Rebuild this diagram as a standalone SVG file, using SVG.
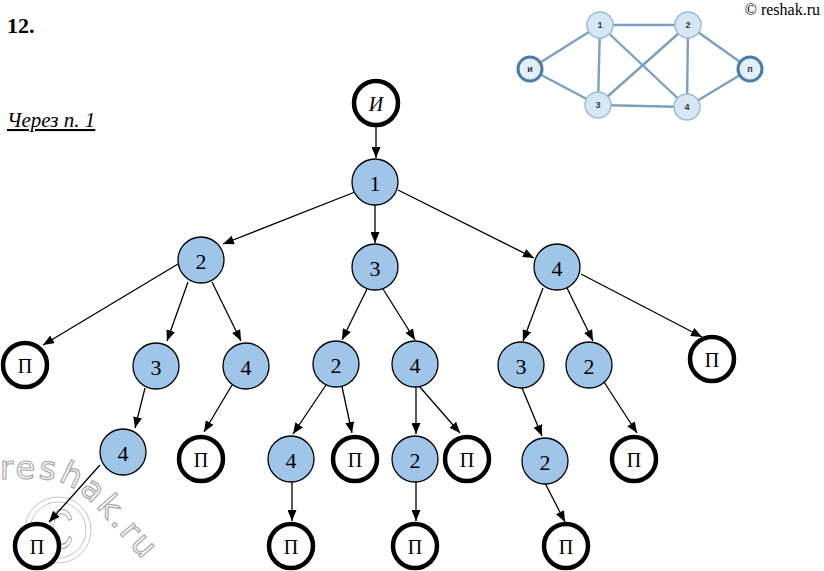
<svg xmlns="http://www.w3.org/2000/svg" xmlns:xlink="http://www.w3.org/1999/xlink" width="824" height="571" viewBox="0 0 824 571">
<style>
.n circle{fill:#9fc5e8;stroke:#000;stroke-width:1.3}
.t circle{fill:#fff;stroke:#000;stroke-width:4.5}
.n text,.t text{font-family:"Liberation Serif",serif;text-anchor:middle;dominant-baseline:central;fill:#000}
.n text{font-size:22px}
.t text{font-size:20px}
.e line{stroke:#000;stroke-width:1.3;marker-end:url(#ah)}
.se line{stroke:#7ba0c2;stroke-width:2.4}
.sn circle{fill:#d7e7f4;stroke:#9dbcd8;stroke-width:1.5}
.st circle{fill:#e4eef7;stroke:#4a7cab;stroke-width:3}
.sn text,.st text{font-family:"Liberation Sans",sans-serif;font-size:9px;font-weight:bold;text-anchor:middle;dominant-baseline:central;fill:#2a3a4a}
.wm{fill:#fff;stroke:#a9a9a9;stroke-width:1.2}
</style>
<defs>
<marker id="ah" markerUnits="userSpaceOnUse" markerWidth="11" markerHeight="9" refX="11" refY="4.5" orient="auto">
<path d="M0,0 L11,4.5 L0,9 z" fill="#000"/>
</marker>
<path id="wmpath" d="M 0,479 L 40,479 Q 70,479 95,506 L 160,579"/>
</defs>
<rect width="824" height="571" fill="#fff"/>

<text x="7" y="33" font-family="Liberation Serif,serif" font-size="22" font-weight="bold">12.</text>
<text x="7" y="127" font-family="Liberation Serif,serif" font-size="21" font-style="italic" text-decoration="underline">Через п. 1</text>
<text x="820" y="15" font-family="Liberation Serif,serif" font-size="16" text-anchor="end">© reshak.ru</text>

<g id="small-graph">
<g class="se">
<line x1="530" y1="69" x2="600" y2="25"/>
<line x1="530" y1="69" x2="598" y2="105"/>
<line x1="600" y1="25" x2="688" y2="25"/>
<line x1="600" y1="25" x2="598" y2="105"/>
<line x1="600" y1="25" x2="687" y2="107"/>
<line x1="688" y1="25" x2="598" y2="105"/>
<line x1="688" y1="25" x2="687" y2="107"/>
<line x1="688" y1="25" x2="750" y2="69"/>
<line x1="598" y1="105" x2="687" y2="107"/>
<line x1="687" y1="107" x2="750" y2="69"/>
</g>
<g id="s-I" class="st"><circle cx="530" cy="69" r="12"/><text x="530" y="69">и</text></g>
<g id="s-1" class="sn"><circle cx="600" cy="25" r="13"/><text x="600" y="25">1</text></g>
<g id="s-2" class="sn"><circle cx="688" cy="25" r="13"/><text x="688" y="25">2</text></g>
<g id="s-3" class="sn"><circle cx="598" cy="105" r="13"/><text x="598" y="105">3</text></g>
<g id="s-4" class="sn"><circle cx="687" cy="107" r="13"/><text x="687" y="107">4</text></g>
<g id="s-P" class="st"><circle cx="750" cy="69" r="12"/><text x="750" y="69">п</text></g>
</g>

<g id="watermark">
<circle cx="58" cy="530" r="33" fill="none" stroke="#c4c4c4" stroke-width="1"/>
<circle cx="58" cy="530" r="28" fill="none" stroke="#c4c4c4" stroke-width="1"/>
<text class="wm" x="0" y="0" font-family="Liberation Sans,sans-serif" font-size="56" text-anchor="middle" transform="translate(61,548) scale(0.6,1)">C</text>
<text class="wm" font-family="DejaVu Sans,sans-serif" font-size="32" letter-spacing="3"><textPath xlink:href="#wmpath" href="#wmpath">reshak.ru</textPath></text>
</g>

<g id="connectors" class="e">
<line x1="376" y1="127" x2="376" y2="158"/>
<line x1="355" y1="192" x2="223" y2="244"/>
<line x1="375" y1="205" x2="375" y2="243"/>
<line x1="398" y1="190" x2="534" y2="258"/>
<line x1="178" y1="264" x2="43" y2="345"/>
<line x1="188" y1="282" x2="167" y2="341"/>
<line x1="212" y1="282" x2="241" y2="341"/>
<line x1="367" y1="289" x2="342" y2="340"/>
<line x1="383" y1="289" x2="415" y2="340"/>
<line x1="543" y1="288" x2="523" y2="341"/>
<line x1="567" y1="288" x2="593" y2="341"/>
<line x1="581" y1="274" x2="702" y2="337"/>
<line x1="145" y1="388" x2="135" y2="428"/>
<line x1="232" y1="385" x2="204" y2="432"/>
<line x1="328" y1="382" x2="293" y2="434"/>
<line x1="341" y1="382" x2="352" y2="433"/>
<line x1="416" y1="387" x2="416" y2="434"/>
<line x1="419" y1="386" x2="460" y2="433"/>
<line x1="522" y1="388" x2="542" y2="436"/>
<line x1="604" y1="382" x2="637" y2="433"/>
<line x1="100" y1="465" x2="49" y2="522"/>
<line x1="292" y1="482" x2="292" y2="521"/>
<line x1="416" y1="482" x2="416" y2="521"/>
<line x1="545" y1="483" x2="565" y2="522"/>
</g>

<g id="n-I" class="t"><circle cx="376" cy="103" r="22"/><text x="376" y="104" font-style="italic">И</text></g>
<g id="n-1" class="n"><circle cx="375" cy="182" r="23"/><text x="375" y="183">1</text></g>
<g id="n-2" class="n"><circle cx="201" cy="260" r="23"/><text x="201" y="261">2</text></g>
<g id="n-3" class="n"><circle cx="375" cy="267" r="23"/><text x="375" y="268">3</text></g>
<g id="n-4" class="n"><circle cx="557" cy="267" r="23"/><text x="557" y="268">4</text></g>

<g id="n-2-P" class="t"><circle cx="25" cy="365" r="22"/><text x="25" y="366">П</text></g>
<g id="n-2-3" class="n"><circle cx="156" cy="366" r="23"/><text x="156" y="367">3</text></g>
<g id="n-2-4" class="n"><circle cx="246" cy="366" r="23"/><text x="246" y="367">4</text></g>
<g id="n-3-2" class="n"><circle cx="336" cy="364" r="23"/><text x="336" y="365">2</text></g>
<g id="n-3-4" class="n"><circle cx="415" cy="364" r="23"/><text x="415" y="365">4</text></g>
<g id="n-4-3" class="n"><circle cx="521" cy="365" r="23"/><text x="521" y="366">3</text></g>
<g id="n-4-2" class="n"><circle cx="589" cy="365" r="23"/><text x="589" y="366">2</text></g>
<g id="n-4-P" class="t"><circle cx="712" cy="359" r="22"/><text x="712" y="360">П</text></g>

<g id="n-2-3-4" class="n"><circle cx="123" cy="452" r="23"/><text x="123" y="453">4</text></g>
<g id="n-2-4-P" class="t"><circle cx="201" cy="459" r="22"/><text x="201" y="460">П</text></g>
<g id="n-3-2-4" class="n"><circle cx="291" cy="459" r="23"/><text x="291" y="460">4</text></g>
<g id="n-3-2-P" class="t"><circle cx="355" cy="459" r="22"/><text x="355" y="460">П</text></g>
<g id="n-3-4-2" class="n"><circle cx="415" cy="459" r="23"/><text x="415" y="460">2</text></g>
<g id="n-3-4-P" class="t"><circle cx="467" cy="459" r="22"/><text x="467" y="460">П</text></g>
<g id="n-4-3-2" class="n"><circle cx="545" cy="461" r="23"/><text x="545" y="462">2</text></g>
<g id="n-4-2-P" class="t"><circle cx="634" cy="459" r="22"/><text x="634" y="460">П</text></g>

<g id="n-2-3-4-P" class="t"><circle cx="37" cy="546" r="22"/><text x="37" y="547">П</text></g>
<g id="n-3-2-4-P" class="t"><circle cx="291" cy="546" r="22"/><text x="291" y="547">П</text></g>
<g id="n-3-4-2-P" class="t"><circle cx="415" cy="546" r="22"/><text x="415" y="547">П</text></g>
<g id="n-4-3-2-P" class="t"><circle cx="566" cy="546" r="22"/><text x="566" y="547">П</text></g>
</svg>
